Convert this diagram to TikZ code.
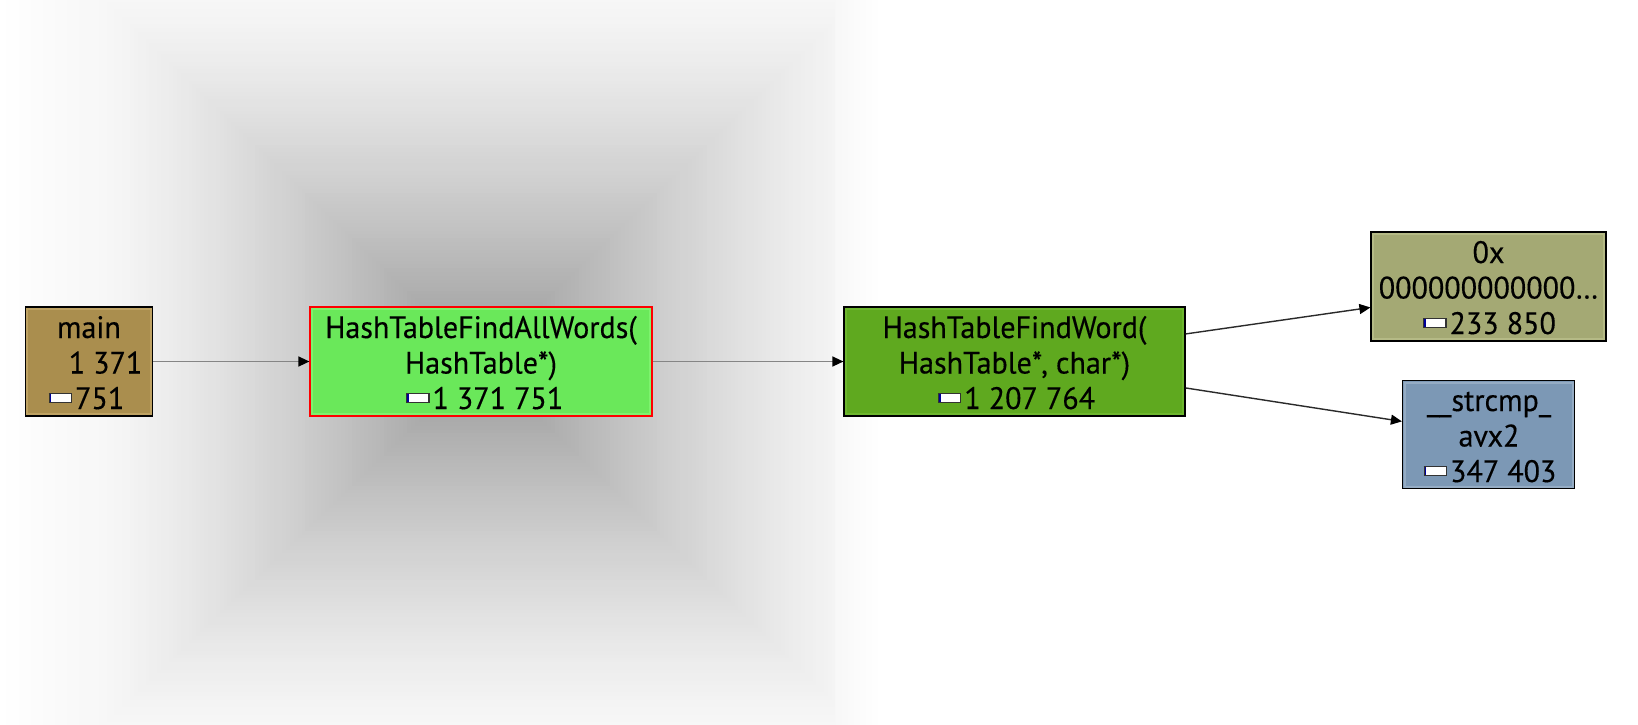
\documentclass[tikz,border=0pt]{standalone}
\usepackage{fontspec}
\setmainfont{PT Sans}[FakeStretch=0.97,FakeBold=0.3]
\usetikzlibrary{arrows.meta,calc}
\definecolor{mainfill}{HTML}{AA8E4E}
\definecolor{mainrim}{HTML}{BEA263}
\definecolor{fawfill}{HTML}{6AE85A}
\definecolor{fawrim}{HTML}{7DF26E}
\definecolor{fwfill}{HTML}{5FA91F}
\definecolor{fwrim}{HTML}{6DB62E}
\definecolor{oxfill}{HTML}{A4A974}
\definecolor{oxrim}{HTML}{B5BA86}
\definecolor{scfill}{HTML}{7C98B5}
\definecolor{scrim}{HTML}{95ACC4}
\definecolor{edgegray}{HTML}{858585}
\definecolor{edgedark}{HTML}{2A2A2A}
\definecolor{bgedge}{gray}{0.97}
\newcommand\costbar{\raisebox{7pt}{\setlength{\fboxsep}{0pt}\setlength{\fboxrule}{1.2pt}\fcolorbox{black!80}{white}{\textcolor{blue!60!black}{\rule{1.6pt}{8pt}}\hspace{19.5pt}}}\hspace{3pt}}
\tikzset{
  box/.style={draw=black, line width=1.2pt, minimum height=109pt, inner sep=0pt, rectangle},
  lbl/.style={anchor=base, inner sep=0pt, font=\fontsize{31}{36}\selectfont, text=black},
  edge/.style={line width=1.4pt, -{Triangle[length=11pt,width=10pt,color=black]}},
}
\begin{document}
\begin{tikzpicture}[x=1pt,y=-1pt]
\useasboundingbox (0,0) rectangle (1638,725);
\fill[white] (0,0) rectangle (1638,725);
% left fade
\shade[left color=white, right color=bgedge] (0,0) rectangle (92,725);
% pyramid gradient around the selected function
\foreach \i in {0,...,99}{
  \pgfmathsetmacro\s{1-\i/100}
  \pgfmathsetmacro\g{(248-96*((\i+0.5)/100)^1.3)/255}
  \definecolor{pyr}{gray}{\g}
  \fill[pyr] ({481-390*\s},{362-375*\s}) rectangle ({481+390*\s},{362+375*\s});
}
% right fade
\shade[left color=bgedge, right color=white] (835,0) rectangle (880,725);
% boxes
\node[box, fill=mainfill, minimum width=127.5pt] (main) at (89,361.5) {};
\node[box, fill=fawfill, draw=red, minimum width=342pt] (faw) at (481,361.5) {};
\node[box, fill=fwfill, minimum width=341pt] (fw) at (1014.5,361.5) {};
\node[box, fill=oxfill, minimum width=235pt] (ox) at (1488.5,286.5) {};
\node[box, fill=scfill, minimum width=172pt, minimum height=108pt] (sc) at (1488.5,434.5) {};
\foreach \n/\c in {main/mainrim, faw/fawrim, fw/fwrim, ox/oxrim, sc/scrim}{
  \draw[\c, line width=2pt] ([shift={(2.6,2.6)}]\n.north west) rectangle ([shift={(-2.6,-2.6)}]\n.south east);
}
% edges
\draw[edge, edgegray] (main.east) -- (faw.west);
\draw[edge, edgegray] (faw.east) -- (fw.west);
\draw[edge, edgedark] ($(fw.north east)!0.25!(fw.south east)$) -- ($(ox.north west)!0.69!(ox.south west)$);
\draw[edge, edgedark] ($(fw.north east)!0.74!(fw.south east)$) -- ($(sc.north west)!0.38!(sc.south west)$);
% labels
\node[lbl] (main1) at (89,338) {main};
\node[lbl] (main2) at (105.6,373.5) {1 371};
\node[lbl] (main3) at (86.5,409) {\costbar 751};
\node[lbl] (faw1) at (481,338) {HashTableFindAllWords(};
\node[lbl] (faw2) at (481,373.5) {HashTable*)};
\node[lbl] (faw3) at (484.7,409) {\costbar 1 371 751};
\node[lbl] (fw1) at (1014.5,338) {HashTableFindWord(};
\node[lbl] (fw2) at (1014.5,373.5) {HashTable*, char*)};
\node[lbl] (fw3) at (1016.5,409) {\costbar 1 207 764};
\node[lbl] (ox1) at (1488.5,263) {0x};
\node[lbl] (ox2) at (1488.5,298.5) {000000000000…};
\node[lbl] (ox3) at (1489.5,334) {\costbar 233 850};
\node[lbl] (sc1) at (1489,411) {\_\_strcmp\_};
\node[lbl] (sc2) at (1489,446.5) {avx2};
\node[lbl] (sc3) at (1490,482) {\costbar 347 403};
\end{tikzpicture}
\end{document}
